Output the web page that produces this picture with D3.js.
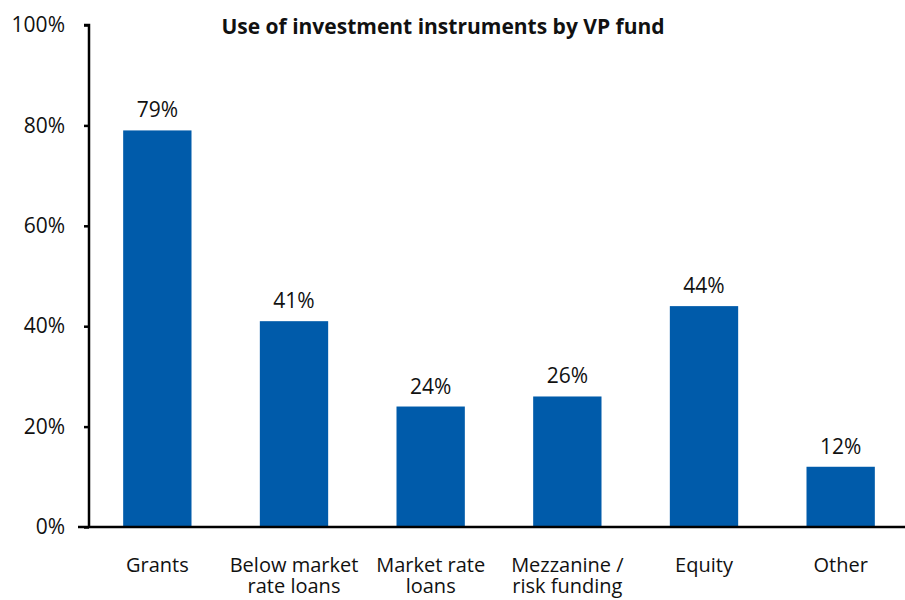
<!DOCTYPE html>
<html>
<head>
<meta charset="utf-8">
<script src="https://cdn.jsdelivr.net/npm/d3@7"></script>
<style>
  body { margin: 0; background: #fff; }
  text { font-family: "Open Sans", sans-serif; fill: #111; }
</style>
</head>
<body>
<div id="chart"></div>
<script>
const categories = [["Grants"], ["Below market", "rate loans"], ["Market rate", "loans"], ["Mezzanine /", "risk funding"], ["Equity"], ["Other"]];
const values = [79, 41, 24, 26, 44, 12];
const yTicks = [0, 20, 40, 60, 80, 100];
const title = "Use of investment instruments by VP fund";

const width = 905;
const height = 600;
const margin = { top: 25, right: 0, bottom: 73, left: 89 };

const svg = d3.select("#chart")
  .append("svg")
  .attr("width", width)
  .attr("height", height);

const names = categories.map(d => d.join(" "));

const x = d3.scaleBand()
  .domain(names)
  .range([margin.left, 909])
  .paddingInner(0.5)
  .paddingOuter(0.25);

const y = d3.scaleLinear()
  .domain([0, 100])
  .range([height - margin.bottom, margin.top]);

// bars
svg.append("g")
  .selectAll("rect")
  .data(values)
  .join("rect")
  .attr("x", (d, i) => x(names[i]))
  .attr("y", d => y(d))
  .attr("width", x.bandwidth())
  .attr("height", d => y(0) - y(d))
  .attr("fill", "#005baa");

// value labels
svg.append("g")
  .selectAll("text")
  .data(values)
  .join("text")
  .attr("x", (d, i) => x(names[i]) + x.bandwidth() / 2)
  .attr("y", d => y(d) - 13)
  .attr("text-anchor", "middle")
  .attr("font-size", 21)
  .text(d => d + "%");

// y axis
const yAxis = svg.append("g")
  .attr("transform", `translate(${margin.left},0)`)
  .call(d3.axisLeft(y).tickValues(yTicks).tickFormat(d => d + "%").tickSize(5).tickPadding(19));
yAxis.select(".domain").attr("stroke", "#000").attr("stroke-width", 2.5)
  .attr("d", `M-5,${y(100)}H0V${y(0)}`);
yAxis.selectAll(".tick line").attr("stroke", "#000").attr("stroke-width", 2.5);
yAxis.selectAll(".tick text").attr("font-size", 21).attr("font-family", "Open Sans").attr("fill", "#111");

// x axis
const xAxis = svg.append("g")
  .attr("transform", `translate(0,${y(0)})`)
  .call(d3.axisBottom(x).tickSize(0).tickFormat(""));
xAxis.select(".domain").attr("stroke", "#000").attr("stroke-width", 2.5)
  .attr("d", `M${margin.left - 11},0H${width}`);

// category labels, one text per line
xAxis.selectAll(".tick").each(function(d, i) {
  const g = d3.select(this);
  categories[i].forEach((line, j) => {
    g.append("text")
      .attr("y", 45 + j * 21)
      .attr("text-anchor", "middle")
      .attr("font-size", 20)
      .attr("font-family", "Open Sans")
      .attr("fill", "#111")
      .text(line);
  });
});

// title
svg.append("text")
  .attr("x", 443)
  .attr("y", 34)
  .attr("text-anchor", "middle")
  .attr("font-size", 21)
  .attr("font-weight", "bold")
  .text(title);
</script>
</body>
</html>
